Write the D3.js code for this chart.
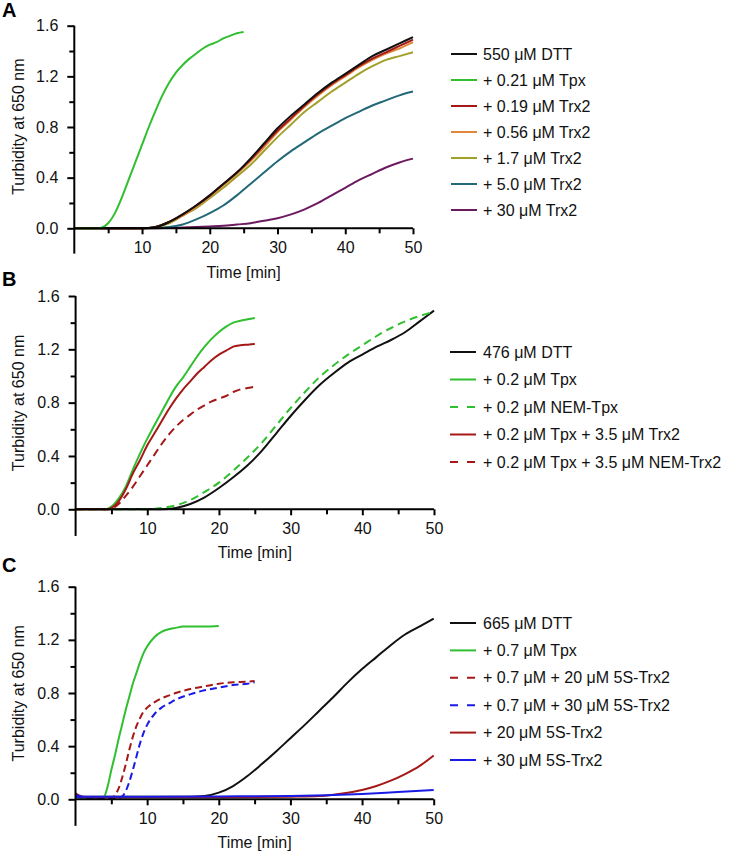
<!DOCTYPE html>
<html>
<head>
<meta charset="utf-8">
<script src="https://cdn.jsdelivr.net/npm/d3@7/dist/d3.min.js"></script>
<style>
  html, body { margin: 0; padding: 0; background: #fff; }
  text { font-family: "Liberation Sans", Arial, sans-serif; }
</style>
</head>
<body>
<svg id="chart" width="729" height="852"></svg>
<script>
// ---------------- DATA ----------------
const yTickValues = [0, 0.4, 0.8, 1.2, 1.6];
const xTickValues = [10, 20, 30, 40, 50];
const xLabel = "Time [min]";
const yLabel = "Turbidity at 650 nm";

// Panel A
const tA_dtt = [0,5,10,12,14,16,18,20,22,24,26,28,30,32,34,36,38,40,42,44,46,48,50];
const vA_dtt   = [0,0,0,0.01,0.05,0.11,0.18,0.26,0.35,0.44,0.55,0.67,0.79,0.89,0.98,1.07,1.15,1.22,1.29,1.36,1.41,1.46,1.51];
const vA_trx019= [0,0,0,0.01,0.05,0.11,0.18,0.26,0.35,0.44,0.54,0.66,0.77,0.87,0.97,1.06,1.14,1.21,1.28,1.34,1.39,1.44,1.49];
const vA_trx056= [0,0,0,0.01,0.05,0.10,0.17,0.25,0.34,0.43,0.53,0.64,0.76,0.86,0.96,1.05,1.13,1.20,1.27,1.33,1.38,1.42,1.47];
const vA_trx17 = [0,0,0,0.01,0.04,0.10,0.16,0.24,0.32,0.41,0.50,0.61,0.72,0.82,0.92,1.00,1.08,1.15,1.22,1.28,1.33,1.36,1.39];
const tA_tpx = [0,3.5,4,5,6,7,8,9,10,11,12,13,14,15,16,17,18,19,20,21,22,23,24,25];
const vA_tpx = [0,0,0.005,0.04,0.12,0.24,0.38,0.52,0.66,0.80,0.93,1.05,1.15,1.23,1.29,1.34,1.38,1.42,1.45,1.47,1.50,1.52,1.54,1.55];
const tA_trx5 = [0,10,14,16,18,20,22,24,26,28,30,32,34,36,38,40,42,44,46,48,50];
const vA_trx5 = [0,0,0.01,0.03,0.07,0.12,0.18,0.26,0.35,0.44,0.53,0.61,0.68,0.75,0.81,0.87,0.92,0.97,1.01,1.05,1.08];
const tA_trx30 = [0,10,15,20,22,24,26,28,30,32,34,36,38,40,42,44,46,48,50];
const vA_trx30 = [0,0,0.005,0.015,0.02,0.03,0.04,0.06,0.08,0.11,0.15,0.20,0.26,0.32,0.38,0.43,0.48,0.52,0.55];
const labelsA = ["550 μM DTT","+ 0.21 μM Tpx","+ 0.19 μM Trx2","+ 0.56 μM Trx2","+ 1.7 μM Trx2","+ 5.0 μM Trx2","+ 30 μM Trx2"];

// Panel B
const tB_dtt = [0,10,12,14,16,18,20,22,24,26,28,30,32,34,36,38,40,42,44,46,48,50];
const vB_dtt    = [0,0,0,0.01,0.04,0.09,0.16,0.24,0.33,0.44,0.57,0.70,0.82,0.93,1.02,1.10,1.16,1.22,1.27,1.33,1.41,1.49];
const vB_nemTpx = [0,0,0.01,0.03,0.07,0.13,0.20,0.29,0.39,0.50,0.63,0.76,0.88,0.99,1.08,1.16,1.23,1.30,1.36,1.41,1.45,1.48];
const tB_early = [0,4,4.5,5,6,7,8,9,10,11,12,13,14,15,16,17,18,19,20,21,22,23,24,25];
const vB_tpx      = [0,0,0.005,0.02,0.08,0.17,0.30,0.42,0.53,0.63,0.73,0.83,0.92,0.99,1.07,1.15,1.22,1.28,1.33,1.37,1.40,1.415,1.425,1.435];
const vB_tpxTrx   = [0,0,0,0.01,0.06,0.15,0.27,0.37,0.48,0.57,0.66,0.75,0.83,0.90,0.96,1.02,1.07,1.12,1.16,1.19,1.22,1.23,1.235,1.24];
const vB_tpxNemTrx= [0,0,0,0.005,0.04,0.10,0.17,0.25,0.33,0.41,0.49,0.56,0.62,0.67,0.71,0.75,0.78,0.81,0.83,0.85,0.88,0.90,0.91,0.92];
const labelsB = ["476 μM DTT","+ 0.2 μM Tpx","+ 0.2 μM NEM-Tpx","+ 0.2 μM Tpx + 3.5 μM Trx2","+ 0.2 μM Tpx + 3.5 μM NEM-Trx2"];

// Panel C
const tC_dtt = [0,10,16,18,20,22,24,26,28,30,32,34,36,38,40,42,44,46,48,50];
const vC_dtt = [0.02,0.02,0.02,0.025,0.05,0.10,0.175,0.265,0.36,0.46,0.56,0.665,0.77,0.88,0.98,1.07,1.16,1.24,1.30,1.36];
const tC_tpx = [0,2,3,3.5,4,4.5,5,5.5,6,6.5,7,7.5,8,8.5,9,9.5,10,11,12,13,14,15,16,18,20];
const vC_tpx = [0.02,0.01,0.01,0.01,0.02,0.10,0.22,0.33,0.45,0.56,0.67,0.77,0.87,0.95,1.03,1.10,1.15,1.22,1.26,1.28,1.29,1.30,1.30,1.30,1.305];
const tC_dash = [0,2,4,5,5.5,6,6.5,7,7.5,8,8.5,9,9.5,10,11,12,13,14,16,18,20,22,24,25];
const vC_tpx20 = [0.02,0.01,0.01,0.01,0.03,0.08,0.16,0.26,0.37,0.47,0.55,0.61,0.66,0.69,0.73,0.76,0.78,0.80,0.83,0.85,0.87,0.88,0.885,0.89];
const vC_tpx30 = [0.02,0.01,0.01,0.01,0.01,0.01,0.02,0.06,0.13,0.22,0.32,0.42,0.50,0.56,0.64,0.69,0.72,0.75,0.79,0.82,0.84,0.86,0.87,0.88];
const tC_s20 = [0,0.5,1,2,5,10,20,30,34,36,38,40,42,44,46,48,50];
const vC_s20 = [0.045,0.03,0.02,0.015,0.015,0.015,0.015,0.02,0.025,0.035,0.05,0.07,0.1,0.14,0.19,0.25,0.33];
const tC_s30 = [0,0.5,1,2,10,20,30,35,40,45,50];
const vC_s30 = [0.035,0.025,0.02,0.02,0.02,0.022,0.025,0.03,0.04,0.055,0.07];
const labelsC = ["665 μM DTT","+ 0.7 μM Tpx","+ 0.7 μM + 20 μM 5S-Trx2","+ 0.7 μM + 30 μM 5S-Trx2","+ 20 μM 5S-Trx2","+ 30 μM 5S-Trx2"];

// ---------------- STYLE / LAYOUT ----------------
const C = {
  black: "#111111", green: "#2fbf2f", red: "#a51818", orange: "#e0883a",
  olive: "#a0a02a", teal: "#226878", purple: "#6c1a60", blue: "#1a1ae6"
};

function zip(t, v) { return t.map((d, i) => ({ t: d, v: v[i] })); }

const panels = [
  {
    letter: "A", letterY: 17,
    x0: 74.3, x1: 413, y0: 228.3, y1: 25.7, titleY: 278,
    legendX: 451, legendY: 54, legendStep: 26,
    series: [
      { d: zip(tA_dtt, vA_dtt), c: C.black },
      { d: zip(tA_tpx, vA_tpx), c: C.green },
      { d: zip(tA_dtt, vA_trx019), c: C.red },
      { d: zip(tA_dtt, vA_trx056), c: C.orange },
      { d: zip(tA_dtt, vA_trx17), c: C.olive },
      { d: zip(tA_trx5, vA_trx5), c: C.teal },
      { d: zip(tA_trx30, vA_trx30), c: C.purple }
    ],
    drawOrder: [6,5,4,3,2,0,1],
    labels: labelsA
  },
  {
    letter: "B", letterY: 286,
    x0: 75.6, x1: 434, y0: 509.3, y1: 296, titleY: 558,
    legendX: 450, legendY: 352, legendStep: 27.5,
    series: [
      { d: zip(tB_dtt, vB_dtt), c: C.black },
      { d: zip(tB_early, vB_tpx), c: C.green },
      { d: zip(tB_dtt, vB_nemTpx), c: C.green, dash: "8,5" },
      { d: zip(tB_early, vB_tpxTrx), c: C.red },
      { d: zip(tB_early, vB_tpxNemTrx), c: C.red, dash: "8,5" }
    ],
    drawOrder: [0,2,1,3,4],
    labels: labelsB
  },
  {
    letter: "C", letterY: 572,
    x0: 75.5, x1: 433.7, y0: 799.3, y1: 586.7, titleY: 848,
    legendX: 450, legendY: 623, legendStep: 27.4,
    series: [
      { d: zip(tC_dtt, vC_dtt), c: C.black },
      { d: zip(tC_tpx, vC_tpx), c: C.green },
      { d: zip(tC_dash, vC_tpx20), c: C.red, dash: "7,4" },
      { d: zip(tC_dash, vC_tpx30), c: C.blue, dash: "7,4" },
      { d: zip(tC_s20, vC_s20), c: C.red },
      { d: zip(tC_s30, vC_s30), c: C.blue }
    ],
    drawOrder: [0,1,2,3,4,5],
    labels: labelsC
  }
];

const svg = d3.select("#chart");
const FONT = 16;
const FF = "Liberation Sans, Arial, sans-serif";

panels.forEach(p => {
  const x = d3.scaleLinear().domain([0, 50]).range([p.x0, p.x1]);
  const y = d3.scaleLinear().domain([0, 1.6]).range([p.y0, p.y1]);
  const g = svg.append("g");

  svg.append("text").attr("x", 2).attr("y", p.letterY)
    .attr("font-size", 20).attr("font-weight", "bold").attr("fill", "#000").text(p.letter);

  const line = d3.line().x(d => x(d.t)).y(d => y(d.v)).curve(d3.curveMonotoneX);
  p.drawOrder.forEach(i => {
    const s = p.series[i];
    g.append("path").datum(s.d)
      .attr("d", line).attr("fill", "none")
      .attr("stroke", s.c).attr("stroke-width", 2)
      .attr("stroke-dasharray", s.dash || null);
  });

  // y axis
  const yAxisG = g.append("g").attr("transform", `translate(${x(0)},0)`);
  yAxisG.append("line").attr("x1", 0).attr("x2", 0)
    .attr("y1", y(1.6)).attr("y2", y(-0.2)).attr("stroke", "#000").attr("stroke-width", 2);
  const yAx = d3.axisLeft(y).tickValues(yTickValues).tickSize(7).tickPadding(9)
    .tickFormat(d3.format(".1f"));
  const ya = yAxisG.append("g").call(yAx);
  ya.select(".domain").remove();
  ya.selectAll(".tick line").attr("stroke-width", 2);
  ya.selectAll(".tick text").attr("font-size", FONT).attr("font-family", FF).attr("fill", "#111");
  const yMinor = d3.axisLeft(y).tickValues([0.2, 0.6, 1.0, 1.4]).tickSize(5).tickFormat("");
  const ym = yAxisG.append("g").call(yMinor);
  ym.select(".domain").remove();
  ym.selectAll(".tick line").attr("stroke-width", 2);

  // x axis
  const xAxisG = g.append("g").attr("transform", `translate(0,${y(0)})`);
  xAxisG.append("line").attr("x1", x(0)).attr("x2", x(50))
    .attr("y1", 0).attr("y2", 0).attr("stroke", "#000").attr("stroke-width", 2);
  const xAx = d3.axisBottom(x).tickValues(xTickValues).tickSize(6).tickPadding(7);
  const xa = xAxisG.append("g").call(xAx);
  xa.select(".domain").remove();
  xa.selectAll(".tick line").attr("stroke-width", 2);
  xa.selectAll(".tick text").attr("font-size", FONT).attr("font-family", FF).attr("fill", "#111");
  const xMinor = d3.axisBottom(x).tickValues([5, 15, 25, 35, 45]).tickSize(5).tickFormat("");
  const xm = xAxisG.append("g").call(xMinor);
  xm.select(".domain").remove();
  xm.selectAll(".tick line").attr("stroke-width", 2);

  // axis titles
  svg.append("text").attr("x", (p.x0 + p.x1) / 2).attr("y", p.titleY)
    .attr("text-anchor", "middle").attr("font-size", FONT).attr("fill", "#111").text(xLabel);
  svg.append("text")
    .attr("transform", `translate(24,${(y(1.6) + y(-0.2)) / 2 - 13}) rotate(-90)`)
    .attr("text-anchor", "middle").attr("font-size", FONT).attr("fill", "#111").text(yLabel);

  // legend
  p.labels.forEach((lab, i) => {
    const s = p.series[i];
    const ly = p.legendY + i * p.legendStep;
    svg.append("line").attr("x1", p.legendX).attr("x2", p.legendX + 26)
      .attr("y1", ly).attr("y2", ly).attr("stroke", s.c).attr("stroke-width", 2)
      .attr("stroke-dasharray", s.dash ? "8,9" : null);
    svg.append("text").attr("x", 483).attr("y", ly + 5.5)
      .attr("font-size", FONT).attr("fill", "#111").text(lab);
  });
});
</script>
</body>
</html>
